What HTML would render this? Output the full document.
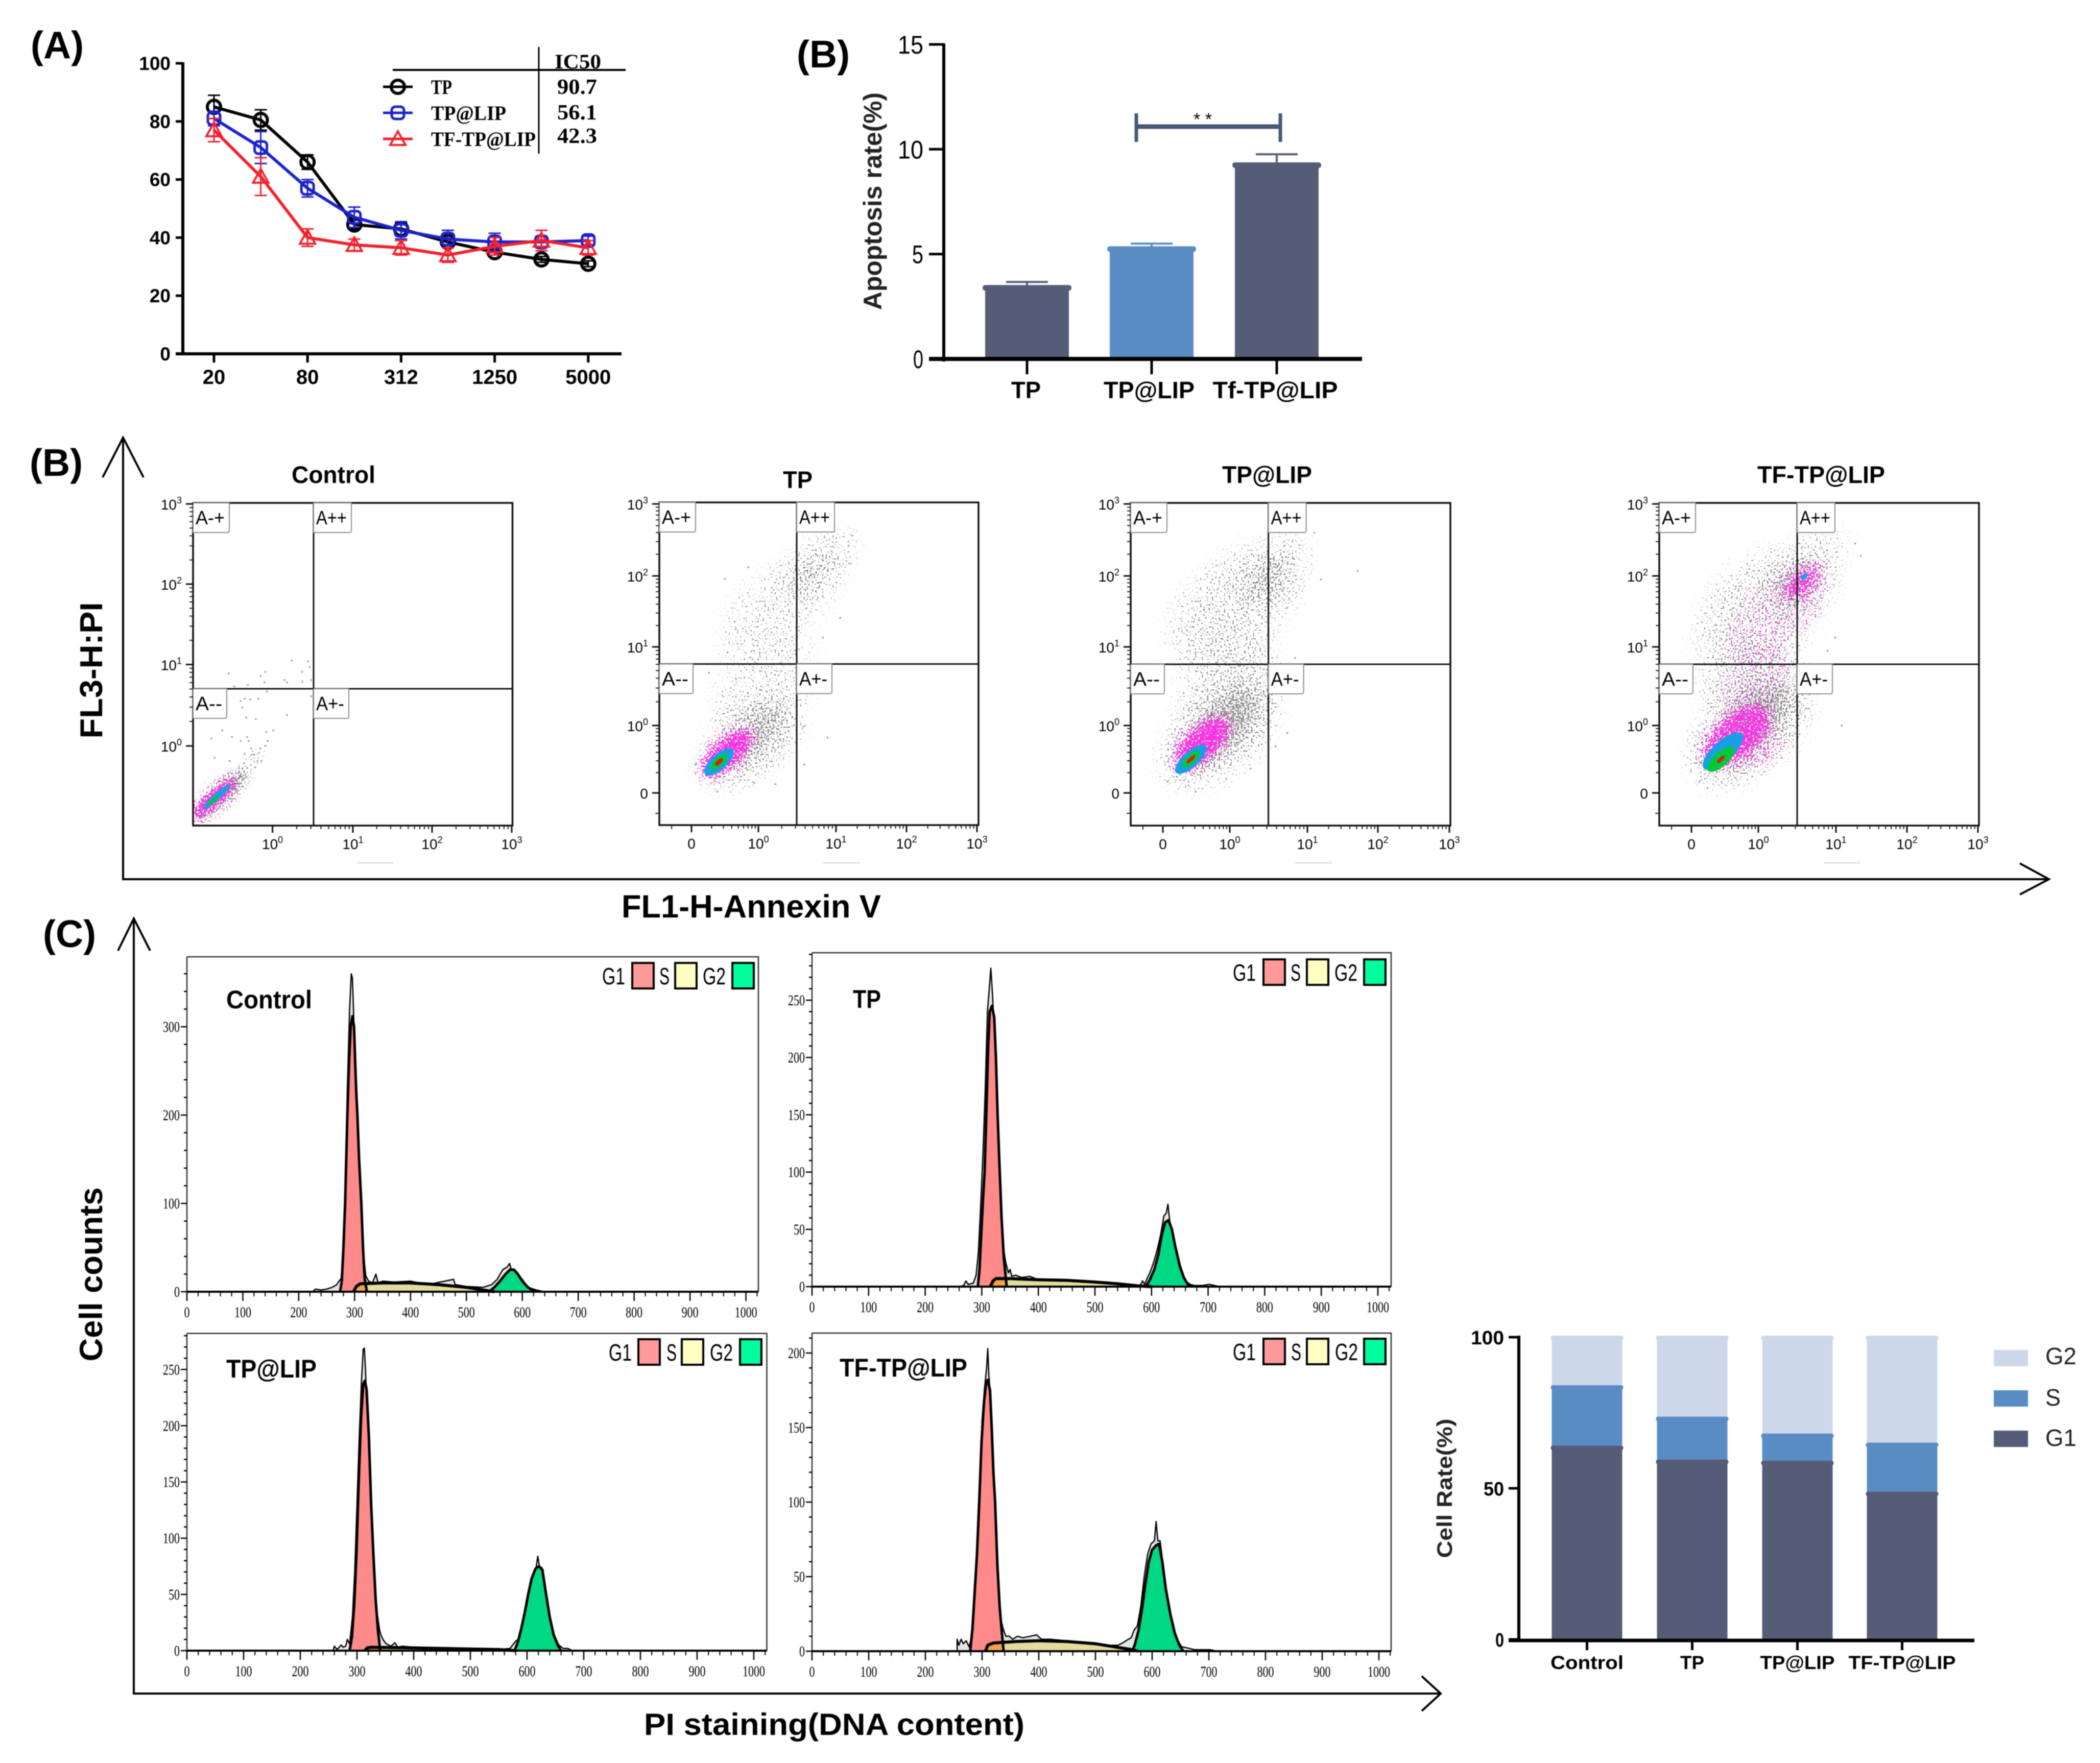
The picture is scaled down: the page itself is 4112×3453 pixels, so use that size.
<!DOCTYPE html>
<html lang="en">
<head>
<meta charset="utf-8">
<title>Cytotoxicity, apoptosis and cell cycle figure</title>
<style>
html,body{margin:0;padding:0;background:#fff;}
svg{display:block;filter:blur(0.8px);font-family:"Liberation Sans",sans-serif;}
</style>
</head>
<body>
<svg id="figure" xmlns="http://www.w3.org/2000/svg" width="4112" height="3453" viewBox="0 0 4112 3453">
<defs>
<filter id="stippleGray" x="-60%" y="-60%" width="220%" height="220%" color-interpolation-filters="sRGB">
<feGaussianBlur in="SourceGraphic" stdDeviation="26" result="b"/>
<feTurbulence type="fractalNoise" baseFrequency="0.3" numOctaves="1" seed="4" result="n"/>
<feColorMatrix in="n" type="matrix" values="0 0 0 0 0 0 0 0 0 0 0 0 0 0 0 2.6 0 0 0 -0.8" result="na"/>
<feComposite in="b" in2="na" operator="arithmetic" k1="0" k2="1" k3="1" k4="-1" result="c"/>
<feComponentTransfer in="c" result="t"><feFuncA type="linear" slope="12" intercept="0"/></feComponentTransfer>
<feFlood flood-color="#868686" result="f"/>
<feComposite in="f" in2="t" operator="in"/>
</filter>
<filter id="stippleGrayFine" x="-60%" y="-60%" width="220%" height="220%" color-interpolation-filters="sRGB">
<feGaussianBlur in="SourceGraphic" stdDeviation="9" result="b"/>
<feTurbulence type="fractalNoise" baseFrequency="0.3" numOctaves="1" seed="8" result="n"/>
<feColorMatrix in="n" type="matrix" values="0 0 0 0 0 0 0 0 0 0 0 0 0 0 0 2.6 0 0 0 -0.8" result="na"/>
<feComposite in="b" in2="na" operator="arithmetic" k1="0" k2="1" k3="1" k4="-1" result="c"/>
<feComponentTransfer in="c" result="t"><feFuncA type="linear" slope="12" intercept="0"/></feComponentTransfer>
<feFlood flood-color="#868686" result="f"/>
<feComposite in="f" in2="t" operator="in"/>
</filter>
<filter id="stippleMagenta" x="-60%" y="-60%" width="220%" height="220%" color-interpolation-filters="sRGB">
<feGaussianBlur in="SourceGraphic" stdDeviation="11" result="b"/>
<feTurbulence type="fractalNoise" baseFrequency="0.28" numOctaves="1" seed="11" result="n"/>
<feColorMatrix in="n" type="matrix" values="0 0 0 0 0 0 0 0 0 0 0 0 0 0 0 2.6 0 0 0 -0.8" result="na"/>
<feComposite in="b" in2="na" operator="arithmetic" k1="0" k2="1" k3="1" k4="-1" result="c"/>
<feComponentTransfer in="c" result="t"><feFuncA type="linear" slope="12" intercept="0"/></feComponentTransfer>
<feFlood flood-color="#ff2fe8" result="f"/>
<feComposite in="f" in2="t" operator="in"/>
</filter>
</defs>
<rect width="4112" height="3453" fill="#ffffff"/>
<g font-weight="700" font-size="75" fill="#000">
<text x="60" y="114">(A)</text>
<text x="1560" y="132">(B)</text>
<text x="58" y="932">(B)</text>
<text x="84" y="1855">(C)</text>
</g>
<g fill="none" stroke="#000" stroke-width="4">
<path d="M241 857V1722H4012"/>
<path d="M201 935L241 857L281 935"/>
<path d="M3955 1691L4012 1722L3955 1752"/>
</g>
<g fill="none" stroke="#000" stroke-width="4">
<path d="M262 1799V3317H2821"/>
<path d="M231 1862L262 1799L294 1862"/>
<path d="M2784 3283L2821 3317L2784 3351"/>
</g>
<g font-weight="700" fill="#000">
<text font-size="62" text-anchor="middle" textLength="267" lengthAdjust="spacingAndGlyphs" transform="translate(200 1313) rotate(-90)">FL3-H:PI</text>
<text x="1217" y="1797" font-size="63" textLength="508" lengthAdjust="spacingAndGlyphs">FL1-H-Annexin V</text>
<text font-size="63" text-anchor="middle" textLength="341" lengthAdjust="spacingAndGlyphs" transform="translate(200 2496) rotate(-90)">Cell counts</text>
<text x="1261" y="3398" font-size="60" textLength="745" lengthAdjust="spacingAndGlyphs">PI staining(DNA content)</text>
</g>
<g id="viabilityChart"></g>
<g id="apoptosisChart"></g>
<g id="flowPlots"></g>
<g id="histPlots"></g>
<g id="stackChart"></g>
</svg>
<script>
/* ---------- (A) viability line chart data ---------- */
const doseCategories = ['20','40','80','156','312','625','1250','2500','5000'];
const doseTickLabels = ['20','','80','','312','','1250','','5000'];
const viabilityTicks = [0,20,40,60,80,100];
const viabilityTP  = [85,80.5,66,44.5,43,38.5,35,32.5,31];
const viabilityLIP = [81,71,57,47,42.5,39.5,38.5,38.5,39];
const viabilityTF  = [77,61,40,37.5,36.5,34,37,39,36.5];
const errorTP  = [4,3.5,2.5,1.5,2,2,1,1,1];
const errorLIP = [2.5,5.5,3,3.5,3,3,3,2,1.5];
const errorTF  = [4,6.5,3,2,2.5,2.5,3,3.5,2.5];
const viabilityNames = ['TP','TP@LIP','TF-TP@LIP'];
const ic50Values = ['90.7','56.1','42.3'];

/* ---------- (B) apoptosis bars data ---------- */
const apoptosisGroups = ['TP','TP@LIP','Tf-TP@LIP'];
const apoptosisRate = [3.45,5.3,9.3];
const apoptosisError = [0.22,0.2,0.46];
const apoptosisTicks = [0,5,10,15];

/* ---------- (B) flow data, in decades: 0 = 10^0, -1 = biexponential zero ---------- */
const flowDecades = [-1,0,1,2,3];
const flowTitles = ['Control','TP','TP@LIP','TF-TP@LIP'];
/* clouds: [centre x, centre y, long radius, short radius, density] */
const controlGray = [[-0.64,-0.61,0.50,0.14,0.62],[-0.25,-0.16,0.16,0.07,0.22]];
const controlMagenta = [[-0.74,-0.67,0.42,0.10,1.0]];
const controlCore = [[-0.70,-0.64,0.25,0.045,'#1a9ee8'],[-0.75,-0.69,0.10,0.025,'#00c83c']];
const tpGray = [[-0.10,-0.20,0.75,0.32,0.5],[0.06,0.56,0.75,0.45,0.13],[0.21,1.51,0.85,0.45,0.13],[0.70,2.03,0.42,0.2,0.42],[0.97,2.40,0.3,0.15,0.22]];
const tpMagenta = [[-0.47,-0.41,0.46,0.20,0.85]];
const tpCore = [[-0.59,-0.54,0.26,0.11,'#1a9ee8'],[-0.59,-0.54,0.15,0.065,'#00c83c'],[-0.59,-0.54,0.07,0.03,'#f01010']];
const lipGray = [[-0.15,-0.10,0.85,0.40,0.52],[-0.02,0.57,0.7,0.5,0.2],[0.05,1.59,1.0,0.55,0.2],[0.49,1.92,0.38,0.22,0.42],[0.75,2.28,0.3,0.17,0.2]];
const lipMagenta = [[-0.41,-0.26,0.48,0.23,0.85]];
const lipCore = [[-0.58,-0.50,0.28,0.11,'#1a9ee8'],[-0.58,-0.50,0.16,0.065,'#00c83c'],[-0.58,-0.50,0.08,0.025,'#f01010']];
const tfGray = [[-0.12,-0.05,0.9,0.42,0.5],[-0.12,0.57,0.65,0.55,0.22],[0.02,1.51,0.95,0.6,0.22],[0.52,1.88,0.48,0.28,0.42],[0.82,2.35,0.3,0.15,0.25]];
const tfMagenta = [[-0.33,-0.15,0.58,0.30,0.72],[0.02,-0.30,0.35,0.3,0.2],[0.57,1.91,0.35,0.18,0.55],[0.22,1.44,0.85,0.45,0.1],[-0.05,0.55,0.6,0.4,0.1]];
const tfCore = [[-0.53,-0.38,0.36,0.14,'#1a9ee8'],[-0.56,-0.50,0.24,0.10,'#00c83c'],[-0.56,-0.50,0.07,0.025,'#f01010'],[0.59,1.99,0.06,0.03,'#1a9ee8']];
/* individually read outlier events */
const controlDotsX = [.24,.44,.46,.37,-.09,-.15,-.55,-.10,.15,.18,.37,.48,-.31,-.48,-.07,.48,-.35,-.28,-.18,-.40,-.38,.18,-.33,-.21,-.08,.01,-.63,-.77,-.51,-.40,-.30,-.32,-.06,-.09,-.15,-.27,-.35,-.23,-.73,-.19,-.14,-.22,-.36,-.54];
const controlDotsY = [1.05,1.04,.97,.91,.91,.86,.89,.78,.81,.78,.79,.81,.75,.73,.67,.61,.58,.57,.58,.55,.47,.38,.35,.33,.17,.19,.19,.09,.11,.06,.06,.11,.06,0,-.03,-.03,-.10,-.11,-.15,-.19,-.19,-.27,-.22,-.19];
const tpDotsX = [1.23,1.19,1.06,.83,.89,.59,.59,-.50,-.15,-.34,-.46,-.74,-.06,.22,-.61,-.93];
const tpDotsY = [2.56,2.17,1.41,1.13,-.18,-.01,-.58,1.96,2.12,1.25,.93,.67,-.85,-.87,-.98,-.56];
const lipDotsX = [1.71,1.19,1.1,.84,.74,.59,-.51,-.93,.27];
const lipDotsY = [2.07,1.95,2.6,.86,-.11,-.31,-.98,-.83,-.64];
const tfDotsX = [1.35,1.27,1.08,.99,.89,-.7,-.76,-.88];
const tfDotsY = [2.28,2.45,0,1.13,.95,1.55,-.93,-.83];

/* ---------- (C) histogram data: [channel, count] ---------- */
const histTitles = ['Control','TP','TP@LIP','TF-TP@LIP'];
const controlG1 = [[274,0],[277,12],[280,50],[283,100],[285,150],[287,200],[290,260],[293,300],[296,312],[299,300],[301,260],[303,225],[305,200],[308,150],[312,100],[315,50],[318,15],[322,0]];
const controlRaw = [[225,0],[230,3],[240,2],[250,3],[260,5],[268,8],[272,12],[276,15],[279,40],[283,110],[287,230],[291,320],[294,360],[296,355],[298,320],[301,250],[305,190],[309,130],[313,80],[317,35],[320,18],[325,12],[332,10],[338,20],[342,10],[350,12],[370,11],[400,12],[430,8],[477,14],[480,8],[500,6],[530,5],[545,8],[555,14],[565,25],[573,28],[577,32],[580,26],[590,22],[600,14],[610,5],[625,2],[640,0]];
const controlS = [[298,0],[303,6],[310,9],[350,10],[400,10],[450,8],[500,5],[530,2],[550,0]];
const controlG2 = [[540,0],[550,5],[560,12],[570,20],[578,25],[585,25],[592,20],[600,12],[610,5],[620,1],[625,0]];
const tpHistG1 = [[293,0],[296,15],[299,45],[302,75],[305,100],[308,150],[311,205],[314,240],[318,245],[322,235],[325,200],[328,150],[331,110],[335,60],[339,25],[344,0]];
const tpHistRaw = [[260,0],[268,1],[272,5],[276,2],[285,3],[290,10],[294,30],[298,70],[302,115],[306,170],[310,240],[314,265],[316,278],[319,255],[323,210],[327,165],[331,115],[335,65],[338,35],[342,22],[345,16],[347,12],[350,15],[353,9],[360,10],[370,8],[385,9],[400,6],[420,6],[450,6],[480,4],[520,3],[560,2],[580,1],[584,5],[588,2],[592,7],[597,12],[603,20],[610,32],[616,45],[622,62],[626,64],[629,72],[632,58],[638,42],[645,26],[652,12],[660,5],[668,2],[675,1],[690,1],[702,2],[720,0]];
const tpHistS = [[315,0],[320,5],[325,7],[350,7],[400,6],[450,5.5],[500,4],[540,2.5],[580,0.5],[600,0]];
const tpHistG2 = [[590,0],[597,6],[605,15],[612,28],[618,45],[624,56],[630,58],[636,50],[642,35],[650,18],[657,8],[664,2],[670,0]];
const lipHistG1 = [[287,0],[291,12],[295,40],[299,85],[303,150],[307,205],[311,237],[314,240],[317,232],[321,190],[325,130],[329,85],[333,45],[337,18],[341,0]];
const lipHistRaw = [[258,0],[260,4],[265,1],[272,5],[276,3],[280,4],[283,10],[287,6],[292,30],[296,70],[300,130],[304,190],[308,240],[311,268],[313,269],[315,250],[318,210],[322,160],[326,110],[331,65],[336,32],[340,18],[343,13],[347,9],[352,6],[360,4],[367,7],[372,3],[380,4],[400,3],[450,2],[500,2],[550,1],[570,2],[576,6],[581,9],[586,10],[590,18],[596,35],[604,52],[610,68],[616,74],[619,84],[622,74],[626,74],[632,55],[640,30],[648,14],[656,5],[664,2],[672,2],[680,0]];
const lipHistS = [[314,0],[318,2.5],[325,3],[400,2.5],[500,1.5],[550,1],[580,0]];
const lipHistG2 = [[578,0],[584,8],[590,20],[596,34],[602,50],[608,64],[615,73],[621,75],[627,72],[633,52],[640,30],[647,14],[654,5],[660,0]];
const tfHistG1 = [[279,0],[283,15],[287,40],[291,65],[295,100],[299,140],[303,165],[307,180],[310,182],[314,175],[317,150],[320,120],[323,100],[327,58],[331,30],[335,12],[338,0]];
const tfHistRaw = [[256,0],[256,8],[259,4],[263,8],[267,5],[272,7],[277,3],[282,10],[286,30],[290,65],[295,110],[300,155],[304,175],[308,190],[310,203],[312,185],[316,165],[320,120],[325,75],[330,35],[334,20],[338,14],[342,10],[348,10],[354,8],[362,10],[372,9],[385,10],[396,11],[405,8],[420,8],[450,7],[480,5],[510,4],[540,4],[550,6],[558,8],[563,9],[568,14],[574,17],[580,30],[586,50],[592,65],[598,72],[604,74],[607,87],[610,74],[614,74],[618,62],[624,42],[630,30],[636,18],[644,8],[652,3],[664,2],[675,1],[690,1],[702,1],[715,0]];
const tfHistS = [[306,0],[310,4],[320,5.5],[360,6.5],[400,7],[450,6.5],[500,5],[540,2.5],[565,1],[575,0]];
const tfHistG2 = [[565,0],[570,5],[576,14],[582,28],[588,45],[594,60],[600,68],[607,71],[612,72],[618,60],[624,42],[632,25],[640,12],[648,4],[655,0]];

/* ---------- (C) stacked cell rate data ---------- */
const cycleGroups = ['Control','TP','TP@LIP','TF-TP@LIP'];
const rateG1 = [63.6,59,58.6,48.4];
const rateS  = [20,14.2,9,16.2];
const rateG2 = [16.4,26.8,32.4,35.4];
const rateTicks = [0,50,100];
const rateLegend = ['G2','S','G1'];

/* ---------- helpers ---------- */
const NS = 'http://www.w3.org/2000/svg';
function mk(tag, attrs, parent, name, text) {
  const el = document.createElementNS(NS, tag);
  for (const k in attrs) { el.setAttribute(k, attrs[k]); }
  
  
  if (text !== undefined) { el.textContent = text; }
  parent.appendChild(el);
  return el;
}
function line(p, name, x1, y1, x2, y2, color, w) {
  return mk('line', {x1, y1, x2, y2, stroke: color, 'stroke-width': w}, p, name);
}
function txt(p, name, x, y, str, size, opts) {
  const o = opts || {};
  const a = {x, y, 'font-size': size, fill: o.fill || '#000', 'font-weight': o.weight || 400, 'text-anchor': o.anchor || 'start'};
  if (o.family) { a['font-family'] = o.family; }
  if (o.len) { a.textLength = o.len; a.lengthAdjust = 'spacingAndGlyphs'; }
  if (o.transform) { a.transform = o.transform; }
  return mk('text', a, p, name, str);
}
const SERIF = '"Liberation Serif",serif';

/* ---------- (A) ---------- */
(function () {
  const root = document.getElementById('viabilityChart');
  const xA = i => 419 + i * 91.6;
  const yA = v => 693 - v * 5.69;
  const black = '#000000', blue = '#1c22cc', red = '#f4202c';
  line(root, 'y-axis', 358, yA(100) - 2, 358, 696, '#000', 6);
  line(root, 'x-axis', 344, 693, 1217, 693, '#000', 6);
  viabilityTicks.forEach(v => {
    line(root, 'y-tick', 344, yA(v), 358, yA(v), '#000', 5);
    txt(root, 'y-tick-label', 334, yA(v) + 13, String(v), 37, {anchor: 'end', weight: 700});
  });
  doseCategories.forEach((c, i) => {
    if (doseTickLabels[i]) {
      line(root, 'x-tick', xA(i), 693, xA(i), 710, '#000', 5);
      txt(root, 'x-tick-label', xA(i), 752, doseTickLabels[i], 40, {anchor: 'middle', weight: 700});
    }
  });
  function marker(p, kind, x, y, color) {
    if (kind === 0) {
      mk('circle', {cx: x, cy: y, r: 13, fill: 'none', stroke: color, 'stroke-width': 6}, p, 'tp-marker');
    } else if (kind === 1) {
      mk('rect', {x: x - 12, y: y - 12, width: 24, height: 24, rx: 7, fill: 'none', stroke: color, 'stroke-width': 5}, p, 'tp-lip-marker');
    } else {
      mk('path', {d: 'M' + x + ' ' + (y - 15) + 'L' + (x + 15) + ' ' + (y + 12) + 'H' + (x - 15) + 'Z', fill: 'none', stroke: color, 'stroke-width': 4}, p, 'tf-tp-lip-marker');
    }
  }
  const series = [[viabilityTP, errorTP, black], [viabilityLIP, errorLIP, blue], [viabilityTF, errorTF, red]];
  series.forEach((s, k) => {
    const g = mk('g', {}, root, 'series-' + viabilityNames[k].toLowerCase().replace('@', '-'));
    mk('polyline', {points: s[0].map((v, i) => xA(i) + ',' + yA(v)).join(' '), fill: 'none', stroke: s[2], 'stroke-width': 6}, g, 'series-line');
    s[0].forEach((v, i) => {
      const x = xA(i);
      line(g, 'error-bar', x, yA(v - s[1][i]), x, yA(v + s[1][i]), s[2], 3);
      line(g, 'error-cap', x - 12, yA(v + s[1][i]), x + 12, yA(v + s[1][i]), s[2], 3);
      line(g, 'error-cap', x - 12, yA(v - s[1][i]), x + 12, yA(v - s[1][i]), s[2], 3);
      marker(g, k, x, yA(v), s[2]);
    });
  });
  line(root, 'legend-rule', 769, 137, 1225, 137, '#000', 4);
  line(root, 'legend-divider', 1055, 92, 1055, 301, '#000', 3);
  txt(root, 'ic50-heading', 1086, 134, 'IC50', 40, {family: SERIF, weight: 700, len: 91});
  const colors = [black, blue, red];
  const nameWidths = [41, 147, 205];
  const valueY = [184, 234, 280];
  viabilityNames.forEach((n, k) => {
    const y = 170 + 51 * k;
    line(root, 'legend-line', 750, y, 808, y, colors[k], 5);
    marker(root, k, 779, y, colors[k]);
    txt(root, 'legend-label', 844, y + 14, n, 40, {family: SERIF, weight: 700, len: nameWidths[k]});
    txt(root, 'ic50-value', 1091, valueY[k], ic50Values[k], 42, {family: SERIF, weight: 700, len: 78});
  });
})();

/* ---------- (B) bars ---------- */
(function () {
  const root = document.getElementById('apoptosisChart');
  const yB = v => 703 - v * 41.07;
  const centers = [2011, 2255, 2500];
  const colors = ['#555c78', '#5a8cc4', '#555c78'];
  const bw = 164;
  apoptosisRate.forEach((v, i) => {
    const g = mk('g', {}, root, 'bar-group-' + (i + 1));
    const top = yB(v);
    line(g, 'error-bar', centers[i], top, centers[i], yB(v + apoptosisError[i]), colors[i], 4);
    line(g, 'error-cap', centers[i] - 41, yB(v + apoptosisError[i]), centers[i] + 41, yB(v + apoptosisError[i]), colors[i], 4);
    mk('rect', {x: centers[i] - bw / 2, y: top, width: bw, height: 703 - top, fill: colors[i]}, g, 'bar');
    mk('rect', {x: centers[i] - bw / 2 - 5, y: top - 3, width: bw + 10, height: 11, rx: 5, fill: colors[i]}, g, 'bar-cap');
  });
  line(root, 'y-axis', 1848, yB(15) - 2, 1848, 708, '#000', 6);
  line(root, 'x-axis', 1819, 703, 2667, 703, '#000', 8);
  const tw = {0: 20, 5: 22, 10: 50, 15: 50};
  apoptosisTicks.forEach(v => {
    line(root, 'y-tick', 1819, yB(v), 1848, yB(v), '#000', 5);
    txt(root, 'y-tick-label', 1808, yB(v) + 18, String(v), 50, {anchor: 'end', len: tw[v]});
  });
  const labelW = [58, 178, 245];
  const labelDx = [-2, -5, -3];
  apoptosisGroups.forEach((g, i) => {
    line(root, 'x-tick', centers[i], 703, centers[i], 733, '#000', 5);
    txt(root, 'x-tick-label', centers[i] + labelDx[i], 780, g, 46, {anchor: 'middle', weight: 700, len: labelW[i]});
  });
  mk('path', {d: 'M2225 222V278M2507 222V278', stroke: '#4a5878', 'stroke-width': 7, fill: 'none'}, root, 'significance-caps');
  line(root, 'significance-bracket', 2225, 248, 2507, 248, '#4a5878', 9);
  txt(root, 'significance-stars', 2355, 245, '* *', 34, {anchor: 'middle'});
  txt(root, 'y-axis-title', 0, 0, 'Apoptosis rate(%)', 50, {anchor: 'middle', weight: 700, len: 426, fill: '#222', transform: 'translate(1726 394) rotate(-90)'});
})();

/* ---------- flow plots ---------- */
(function () {
  const root = document.getElementById('flowPlots');
  const panels = [
    {key: 'control', l: 378, r: 1003.5, t: 985, b: 1617, vx: 614, hy: 1349, xt: [378, 533.6, 691, 846, 1002], yt: [1616, 1461, 1301.5, 1144, 987], title: [653, 946], zero: false, fine: true, art: 698, gray: controlGray, mag: controlMagenta, core: controlCore, dx: controlDotsX, dy: controlDotsY},
    {key: 'tp', l: 1291, r: 1916, t: 984, b: 1616, vx: 1560, hy: 1300.5, xt: [1354, 1485, 1637, 1775, 1913], yt: [1553, 1421, 1267, 1128, 987], title: [1562, 956], zero: true, fine: false, art: 1612, gray: tpGray, mag: tpMagenta, core: tpCore, dx: tpDotsX, dy: tpDotsY},
    {key: 'tp-lip', l: 2214, r: 2840, t: 985, b: 1617, vx: 2483.6, hy: 1301, xt: [2277, 2408, 2560, 2698, 2838], yt: [1553, 1421, 1267, 1128, 987], title: [2481, 946], zero: true, fine: false, art: 2536, gray: lipGray, mag: lipMagenta, core: lipCore, dx: lipDotsX, dy: lipDotsY},
    {key: 'tf-tp-lip', l: 3249, r: 3875, t: 985, b: 1617, vx: 3519, hy: 1301, xt: [3312, 3443, 3595, 3734, 3873], yt: [1553, 1421, 1267, 1128, 987], title: [3566, 946], zero: true, fine: false, art: 3571, gray: tfGray, mag: tfMagenta, core: tfCore, dx: tfDotsX, dy: tfDotsY}
  ];
  function interp(ticks, d) {
    const dd = Math.max(-1.4, Math.min(3, d));
    const i = Math.min(3, Math.max(0, Math.floor(dd + 1)));
    return ticks[i] + (dd + 1 - i) * (ticks[i + 1] - ticks[i]);
  }
  const PX = 140, ANGLE = -42;
  panels.forEach((p, idx) => {
    const g = mk('g', {}, root, 'flow-plot-' + p.key);
    const X = d => interp(p.xt, d);
    const Y = d => interp(p.yt, d);
    const titleW = [164, 58, 176, 250];
    txt(g, 'flow-plot-title', p.title[0], p.title[1], flowTitles[idx], 47, {anchor: 'middle', weight: 700, len: titleW[idx]});
    mk('rect', {x: p.l, y: p.t, width: p.r - p.l, height: p.b - p.t, fill: '#fff'}, g, 'plot-area');
    const clipId = 'flowClip' + idx;
    const cp = mk('clipPath', {id: clipId}, g, 'plot-clip');
    mk('rect', {x: p.l, y: p.t, width: p.r - p.l, height: p.b - p.t}, cp, 'plot-clip-rect');
    const clipped = mk('g', {'clip-path': 'url(#' + clipId + ')'}, g, 'event-layer');
    function clouds(list, filter, name) {
      const layer = mk('g', {filter: 'url(#' + filter + ')'}, clipped, name);
      list.forEach(c => {
        const cx = X(c[0]), cy = Y(c[1]);
        mk('ellipse', {cx, cy, rx: c[2] * PX, ry: c[3] * PX, fill: '#000', 'fill-opacity': c[4], transform: 'rotate(' + ANGLE + ' ' + cx + ' ' + cy + ')'}, layer, 'event-cloud');
      });
    }
    clouds(p.gray, p.fine ? 'stippleGrayFine' : 'stippleGray', 'gray-event-density');
    clouds(p.mag, 'stippleMagenta', 'magenta-event-density');
    p.core.forEach(c => {
      const cx = X(c[0]), cy = Y(c[1]);
      mk('ellipse', {cx, cy, rx: c[2] * PX, ry: c[3] * PX, fill: c[4], transform: 'rotate(' + ANGLE + ' ' + cx + ' ' + cy + ')'}, clipped, 'density-core');
    });
    p.dx.forEach((d, i) => {
      mk('rect', {x: X(d) - 1.5, y: Y(p.dy[i]) - 1.5, width: 3, height: 3, fill: '#8a8a8a'}, clipped, 'outlier-event');
    });
    line(g, 'quadrant-vertical-gate', p.vx, p.t, p.vx, p.b, '#111', 3);
    line(g, 'quadrant-horizontal-gate', p.l, p.hy, p.r, p.hy, '#111', 3);
    mk('rect', {x: p.l, y: p.t, width: p.r - p.l, height: p.b - p.t, fill: 'none', stroke: '#111', 'stroke-width': 3.5}, g, 'plot-frame');
    const boxes = [[p.l, p.t, 71, 'A-+'], [p.vx, p.t, 74, 'A++'], [p.l, p.hy, 66, 'A--'], [p.vx, p.hy, 69, 'A+-']];
    boxes.forEach(b => {
      mk('path', {d: 'M' + b[0] + ' ' + b[1] + 'H' + (b[0] + b[2]) + 'V' + (b[1] + 54) + 'q0 4 -4 4H' + b[0] + 'Z', fill: '#fff', stroke: '#8c8c8c', 'stroke-width': 2}, g, 'quadrant-label-box');
      txt(g, 'quadrant-label', b[0] + 5, b[1] + 42, b[3], 38, {len: b[2] - 14});
    });
    line(g, 'scan-artifact', p.art, 1690, p.art + 72, 1690, '#d4d4d4', 2);
    /* ticks */
    flowDecades.forEach(d => {
      if (d === -1 && !p.zero) { return; }
      const xx = X(d), yy = Y(d);
      line(g, 'x-major-tick', xx, p.b, xx, p.b + 14, '#111', 3);
      line(g, 'y-major-tick', p.l - 14, yy, p.l, yy, '#111', 3);
      if (d === -1) {
        txt(g, 'x-tick-label', xx, p.b + 46, '0', 28, {anchor: 'middle'});
        txt(g, 'y-tick-label', p.l - 22, yy + 11, '0', 28, {anchor: 'end'});
      } else {
        const lx = txt(g, 'x-tick-label', xx, p.b + 46, '10', 28, {anchor: 'middle'});
        mk('tspan', {dy: -12, 'font-size': 18}, lx, 'x-tick-exponent', String(d));
        const ly = txt(g, 'y-tick-label', p.l - 22, yy + 11, '10', 28, {anchor: 'end'});
        mk('tspan', {dy: -12, 'font-size': 18}, ly, 'y-tick-exponent', String(d));
      }
      if (d < 3) {
        [2, 3, 4, 5, 6, 7, 8, 9].forEach(m => {
          const f = Math.log10(m);
          const mx = X(d + f), my = Y(d + f);
          if (mx > p.l + 1) { line(g, 'x-minor-tick', mx, p.b, mx, p.b + 7, '#222', 2); }
          if (my < p.b - 1) { line(g, 'y-minor-tick', p.l - 7, my, p.l, my, '#222', 2); }
        });
      }
    });
    if (p.zero) {
      const nx = p.xt[0] - 39, ny = p.yt[0] + 40;
      line(g, 'x-negative-tick', nx, p.b, nx, p.b + 8, '#222', 2);
      line(g, 'y-negative-tick', p.l - 8, ny, p.l, ny, '#222', 2);
    }
  });
})();

/* ---------- histograms ---------- */
(function () {
  const root = document.getElementById('histPlots');
  const panels = [
    {key: 'control', l: 366, r: 1485, t: 1874, b: 2530, kx: 1.0946, ky: 1.73, major: 100, minor: 20, g1: controlG1, raw: controlRaw, s: controlS, g2: controlG2, tx: 443, ty: 1975, tw: 168, sw: [1238, 1322, 1434], st: 1886, lx: [1179, 1291, 1376]},
    {key: 'tp', l: 1590, r: 2724, t: 1866, b: 2520, kx: 1.108, ky: 2.244, major: 50, minor: 10, g1: tpHistG1, raw: tpHistRaw, s: tpHistS, g2: tpHistG2, tx: 1670, ty: 1974, tw: 55, sw: [2474, 2559, 2671], st: 1879, lx: [2414, 2527, 2613]},
    {key: 'tp-lip', l: 366, r: 1501.5, t: 2611.6, b: 3233, kx: 1.11, ky: 2.203, major: 50, minor: 10, g1: lipHistG1, raw: lipHistRaw, s: lipHistS, g2: lipHistG2, tx: 443, ty: 2698, tw: 177, sw: [1250, 1335, 1449], st: 2623, lx: [1192, 1305, 1390]},
    {key: 'tf-tp-lip', l: 1590, r: 2724, t: 2611, b: 3234, kx: 1.11, ky: 2.92, major: 50, minor: 10, g1: tfHistG1, raw: tfHistRaw, s: tfHistS, g2: tfHistG2, tx: 1644, ty: 2696, tw: 250, sw: [2474, 2559, 2671], st: 2622, lx: [2414, 2528, 2614]}
  ];
  const legendNames = ['G1', 'S', 'G2'];
  const legendFill = ['#ff9a9a', '#ffffc4', '#00ff9c'];
  panels.forEach((p, idx) => {
    const g = mk('g', {}, root, 'histogram-' + p.key);
    const X = c => p.l + c * p.kx;
    const Y = n => p.b - n * p.ky;
    const pts = arr => arr.map(q => X(q[0]) + ',' + Y(q[1])).join(' ');
    const clipId = 'g1Clip' + idx;
    const cp = mk('clipPath', {id: clipId}, g, 'g1-clip');
    mk('polygon', {points: pts(p.g1)}, cp, 'g1-clip-shape');
    mk('polygon', {points: pts(p.raw), fill: '#e6e6e6', stroke: '#000', 'stroke-width': 2.5, 'stroke-linejoin': 'round'}, g, 'raw-histogram');
    mk('polygon', {points: pts(p.g1), fill: '#ff8a8a'}, g, 'g1-peak-fill');
    mk('polygon', {points: pts(p.s), fill: '#e3dc9c'}, g, 's-phase-fill');
    mk('polygon', {points: pts(p.s), fill: '#f5a24a', 'clip-path': 'url(#' + clipId + ')'}, g, 'g1-s-overlap');
    mk('polygon', {points: pts(p.g2), fill: '#00d884'}, g, 'g2-peak-fill');
    mk('polyline', {points: pts(p.g1), fill: 'none', stroke: '#000', 'stroke-width': 5, 'stroke-linejoin': 'round'}, g, 'g1-fit-line');
    mk('polyline', {points: pts(p.s), fill: 'none', stroke: '#000', 'stroke-width': 6, 'stroke-linejoin': 'round'}, g, 's-fit-line');
    mk('polyline', {points: pts(p.g2), fill: 'none', stroke: '#000', 'stroke-width': 5, 'stroke-linejoin': 'round'}, g, 'g2-fit-line');
    mk('path', {d: 'M' + p.l + ' ' + p.t + 'H' + p.r + 'V' + p.b, fill: 'none', stroke: '#333', 'stroke-width': 2.5}, g, 'plot-top-right-border');
    line(g, 'y-axis', p.l, p.t, p.l, p.b, '#333', 2.5);
    line(g, 'x-axis', p.l, p.b, p.r, p.b, '#000', 4);
    for (let c = 0; c <= 1020; c += 20) {
      const major = c % 100 === 0;
      const xx = X(c);
      if (xx > p.r) { break; }
      line(g, major ? 'x-major-tick' : 'x-minor-tick', xx, p.b, xx, p.b + (major ? 18 : 9), '#000', major ? 2.5 : 2);
      if (major) {
        txt(g, 'x-tick-label', xx, p.b + 50, String(c), 30, {anchor: 'middle', family: SERIF, len: 11 * String(c).length});
      }
    }
    for (let n = 0; Y(n) >= p.t; n += p.minor) {
      const major = n % p.major === 0;
      line(g, major ? 'y-major-tick' : 'y-minor-tick', p.l - (major ? 12 : 6), Y(n), p.l, Y(n), '#000', 2.5);
      if (major) {
        txt(g, 'y-tick-label', p.l - 14, Y(n) + 10, String(n), 30, {anchor: 'end', family: SERIF, len: 11 * String(n).length});
      }
    }
    txt(g, 'histogram-title', p.tx, p.ty, histTitles[idx], 50, {weight: 700, len: p.tw});
    legendNames.forEach((n, i) => {
      mk('rect', {x: p.sw[i], y: p.st, width: 42, height: 50, fill: legendFill[i], stroke: '#000', 'stroke-width': 4}, g, 'legend-swatch-' + n.toLowerCase());
      txt(g, 'legend-label-' + n.toLowerCase(), p.lx[i], p.st + 42, n, 46, {len: n === 'S' ? 20 : 45});
    });
  });
})();

/* ---------- stacked ---------- */
(function () {
  const root = document.getElementById('stackChart');
  const yC = v => 3211 - v * 5.92;
  const centers = [3107.5, 3313.5, 3519.5, 3724.5];
  const bw = 138;
  const dark = '#555c78', mid = '#5a8cc4', light = '#ccd8ea';
  function seg(name, cx, base, val) {
    const g = mk('g', {}, root, name);
    const colors = {g1: dark, s: mid, g2: light};
    const key = name.split('-')[1];
    mk('rect', {x: cx - bw / 2, y: yC(base + val), width: bw, height: yC(base) - yC(base + val), fill: colors[key]}, g, 'stack-rect');
    mk('rect', {x: cx - bw / 2 - 2, y: yC(base + val) - 3, width: bw + 4, height: 9, rx: 4, fill: colors[key]}, g, 'stack-cap');
  }
  cycleGroups.forEach((c, i) => {
    seg('segment-g2-' + i, centers[i], rateG1[i] + rateS[i], rateG2[i]);
    seg('segment-s-' + i, centers[i], rateG1[i], rateS[i]);
    seg('segment-g1-' + i, centers[i], 0, rateG1[i]);
  });
  line(root, 'y-axis', 2974, yC(100) - 3, 2974, 3215, '#000', 6);
  line(root, 'x-axis', 2954, 3213, 3866, 3213, '#000', 7);
  const tw = {0: 17, 50: 40, 100: 65};
  rateTicks.forEach(v => {
    line(root, 'y-tick', 2954, yC(v), 2974, yC(v), '#000', 5);
    txt(root, 'y-tick-label', 2945, yC(v) + 14, String(v), 38, {anchor: 'end', weight: 700, len: tw[v]});
  });
  const lw = [143, 47, 146, 210];
  cycleGroups.forEach((c, i) => {
    line(root, 'x-tick', centers[i], 3213, centers[i], 3232, '#000', 5);
    txt(root, 'x-tick-label', centers[i], 3269, c, 37, {anchor: 'middle', weight: 700, len: lw[i]});
  });
  txt(root, 'y-axis-title', 0, 0, 'Cell Rate(%)', 42, {anchor: 'middle', weight: 700, len: 273, fill: '#222', transform: 'translate(2843 2915) rotate(-90)'});
  const swatchColors = [light, mid, dark];
  const swatchY = [2644, 2723, 2802];
  const labelY = [2672, 2753, 2832];
  rateLegend.forEach((n, i) => {
    mk('rect', {x: 3904, y: swatchY[i], width: 67, height: 32, fill: swatchColors[i]}, root, 'legend-swatch-' + n.toLowerCase());
    txt(root, 'legend-label-' + n.toLowerCase(), 4005, labelY[i], n, 46, {fill: '#222', len: n === 'S' ? 30 : 61});
  });
})();
</script>
</body>
</html>
